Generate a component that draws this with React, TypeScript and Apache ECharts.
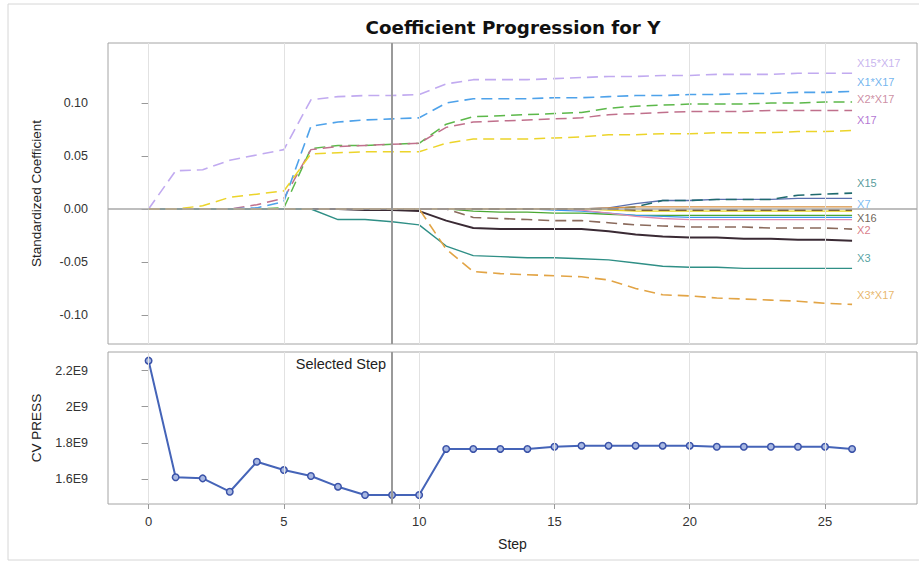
import React, { useEffect, useRef } from "react";
import * as echarts from "echarts";

const steps = [0, 1, 2, 3, 4, 5, 6, 7, 8, 9, 10, 11, 12, 13, 14, 15, 16, 17, 18, 19, 20, 21, 22, 23, 24, 25, 26];

// Standardized coefficients per step
const x15x17 = [0, 0.036, 0.037, 0.046, 0.051, 0.056, 0.103, 0.106, 0.107, 0.107, 0.108, 0.118, 0.122, 0.122, 0.122, 0.123, 0.124, 0.125, 0.125, 0.126, 0.126, 0.127, 0.127, 0.127, 0.128, 0.128, 0.128];
const x1x17 = [0, 0, 0, 0, 0.001, 0.007, 0.078, 0.082, 0.084, 0.085, 0.086, 0.1, 0.104, 0.104, 0.104, 0.105, 0.105, 0.106, 0.107, 0.107, 0.108, 0.108, 0.109, 0.109, 0.11, 0.11, 0.111];
const greenDash = [0, 0, 0, 0, 0, 0.001, 0.057, 0.06, 0.06, 0.061, 0.062, 0.08, 0.087, 0.088, 0.089, 0.09, 0.091, 0.095, 0.097, 0.098, 0.099, 0.099, 0.099, 0.1, 0.1, 0.101, 0.101];
const mauveDash = [0, 0, 0, 0, 0.004, 0.01, 0.056, 0.059, 0.06, 0.061, 0.062, 0.077, 0.082, 0.083, 0.084, 0.085, 0.086, 0.089, 0.09, 0.091, 0.092, 0.092, 0.092, 0.093, 0.093, 0.093, 0.093];
const yellowDash = [0, 0, 0.003, 0.011, 0.014, 0.017, 0.052, 0.053, 0.054, 0.054, 0.054, 0.062, 0.066, 0.066, 0.066, 0.067, 0.068, 0.07, 0.07, 0.071, 0.071, 0.072, 0.072, 0.072, 0.073, 0.073, 0.074];
const x3 = [0, 0, 0, 0, 0, 0, 0, -0.01, -0.01, -0.012, -0.015, -0.035, -0.044, -0.045, -0.046, -0.046, -0.047, -0.048, -0.051, -0.054, -0.055, -0.055, -0.056, -0.056, -0.056, -0.056, -0.056];
const x3x17 = [0, 0, 0, 0, 0, 0, 0, 0, 0, 0, 0, -0.038, -0.059, -0.061, -0.062, -0.063, -0.064, -0.067, -0.075, -0.081, -0.082, -0.084, -0.085, -0.086, -0.087, -0.089, -0.09];
const darkSolid = [0, 0, 0, 0, 0, 0, 0, 0, -0.001, -0.001, -0.002, -0.011, -0.018, -0.019, -0.019, -0.019, -0.019, -0.021, -0.024, -0.026, -0.027, -0.027, -0.028, -0.028, -0.029, -0.029, -0.03];
const x2Dash = [0, 0, 0, 0, 0, 0, 0, 0, 0, 0, 0, 0, -0.008, -0.009, -0.01, -0.011, -0.011, -0.013, -0.015, -0.016, -0.017, -0.017, -0.017, -0.018, -0.018, -0.018, -0.019];
const x15Dash = [0, 0, 0, 0, 0, 0, 0, 0, 0, 0, 0, 0, 0, 0, 0, 0, 0, 0, 0.002, 0.008, 0.008, 0.009, 0.009, 0.009, 0.013, 0.014, 0.015];
const slateSolid = [0, 0, 0, 0, 0, 0, 0, 0, 0, 0, 0, 0, 0, 0, 0, 0, 0, 0.001, 0.005, 0.008, 0.008, 0.009, 0.009, 0.009, 0.01, 0.01, 0.01];
const greenSolid = [0, 0, 0, 0, 0, 0, 0, 0, 0, 0, 0, 0, -0.002, -0.003, -0.003, -0.004, -0.004, -0.005, -0.006, -0.006, -0.006, -0.006, -0.006, -0.006, -0.006, -0.006, -0.006];
const blueSolid = [0, 0, 0, 0, 0, 0, 0, 0, 0, 0, 0, 0, 0, 0, 0, -0.001, -0.002, -0.004, -0.006, -0.007, -0.008, -0.008, -0.008, -0.008, -0.008, -0.008, -0.008];
const pinkSolid = [0, 0, 0, 0, 0, 0, 0, 0, 0, 0, 0, 0, 0, 0, 0, 0, -0.001, -0.004, -0.007, -0.009, -0.01, -0.01, -0.01, -0.01, -0.01, -0.01, -0.01];
const yellowSolid = [0, 0, 0, 0, 0, 0, 0, 0, 0, 0, 0, 0, 0, 0, 0, 0, 0, -0.001, -0.002, -0.002, -0.002, -0.002, -0.002, -0.002, -0.002, -0.002, -0.002];
const orangeSolid = [0, 0, 0, 0, 0, 0, 0, 0, 0, 0, 0, 0, 0, 0, 0, 0, 0, 0.001, 0.002, 0.002, 0.002, 0.002, 0.002, 0.002, 0.002, 0.002, 0.002];
const brownDash = [0, 0, 0, 0, 0, 0, 0, 0, 0, 0, 0, 0, 0, 0, 0, 0, 0, 0, -0.001, -0.001, -0.001, -0.001, -0.001, -0.001, -0.001, -0.001, -0.001];

// CV PRESS (in units of 1E9)
const cvPress = [2.255, 1.609, 1.603, 1.529, 1.695, 1.649, 1.616, 1.557, 1.511, 1.511, 1.511, 1.766, 1.766, 1.766, 1.766, 1.778, 1.784, 1.784, 1.784, 1.784, 1.784, 1.778, 1.778, 1.778, 1.778, 1.778, 1.766];

// Effect labels on the right of the coefficient panel
const labelNames = ["X15*X17", "X1*X17", "X2*X17", "X17", "X15", "X7", "X16", "X2", "X3", "X3*X17"];
const labelValues = [0.1377, 0.1198, 0.1038, 0.084, 0.0245, 0.0047, -0.0085, -0.0198, -0.0462, -0.0811];
const labelColors = ["#b9a2ea", "#4ea2ea", "#c0708c", "#a052c8", "#2c7f7f", "#5aacf0", "#4a3a2c", "#d05a68", "#2a8a8a", "#e2a445"];

const coefTicks = [-0.1, -0.05, 0, 0.05, 0.1];
const pressTicks = [1.6, 1.8, 2.0, 2.2];
const stepTicks = [0, 5, 10, 15, 20, 25];
const selectedStep = 9;

const FONT = "'Liberation Sans', Arial, Helvetica, sans-serif";

type Curve = { name: string; values: number[]; color: string; dashed: boolean; width: number };
const curves: Curve[] = [
  { name: "slate", values: slateSolid, color: "#5a6fae", dashed: false, width: 1.3 },
  { name: "x15", values: x15Dash, color: "#1f6a6e", dashed: true, width: 1.6 },
  { name: "greenSolid", values: greenSolid, color: "#4aa832", dashed: false, width: 1.3 },
  { name: "blueSolid", values: blueSolid, color: "#3a98f0", dashed: false, width: 1.3 },
  { name: "pinkSolid", values: pinkSolid, color: "#e08cb0", dashed: false, width: 1.3 },
  { name: "yellowSolid", values: yellowSolid, color: "#e6d21a", dashed: false, width: 1.2 },
  { name: "orangeSolid", values: orangeSolid, color: "#d69040", dashed: false, width: 1.2 },
  { name: "x16", values: brownDash, color: "#5a3a1a", dashed: true, width: 1.5 },
  { name: "x2", values: x2Dash, color: "#8a6a5c", dashed: true, width: 1.6 },
  { name: "dark", values: darkSolid, color: "#3a2a34", dashed: false, width: 2 },
  { name: "x3", values: x3, color: "#2f8f86", dashed: false, width: 1.4 },
  { name: "green", values: greenDash, color: "#5cb84a", dashed: true, width: 1.5 },
  { name: "mauve", values: mauveDash, color: "#c0708c", dashed: true, width: 1.5 },
  { name: "x1x17", values: x1x17, color: "#4ea2ea", dashed: true, width: 1.6 },
  { name: "x15x17", values: x15x17, color: "#c1aaf0", dashed: true, width: 1.6 },
  { name: "yellow", values: yellowDash, color: "#ecd42a", dashed: true, width: 1.5 },
  { name: "x3x17", values: x3x17, color: "#e2a445", dashed: true, width: 1.6 },
];

export default function App() {
  const ref = useRef<HTMLDivElement>(null);

  useEffect(() => {
    const chart = echarts.init(ref.current!, null, { renderer: "svg" });

    const axisLabelStyle = { color: "#333", fontFamily: FONT };
    const xBase = { type: "value", min: -1.5, max: 28.4, splitLine: { show: false }, axisLine: { show: false } };

    const coefSeries = curves.map((c) => ({
      type: "line",
      name: c.name,
      xAxisIndex: 0,
      yAxisIndex: 0,
      z: 3,
      symbol: "none",
      silent: true,
      data: steps.map((s, i) => [s, c.values[i]]),
      lineStyle: { color: c.color, width: c.width, type: c.dashed ? [11, 6] : "solid" },
    }));

    const option: any = {
      animation: false,
      backgroundColor: "#fff",
      textStyle: { fontFamily: FONT },
      grid: [
        { left: 108, top: 43, width: 809, height: 301, show: true, borderColor: "#a4a4a4", borderWidth: 1, backgroundColor: "transparent" },
        { left: 108, top: 352, width: 809, height: 152, show: true, borderColor: "#a4a4a4", borderWidth: 1, backgroundColor: "transparent" },
      ],
      xAxis: [
        { ...xBase, gridIndex: 0, axisTick: { show: false }, axisLabel: { show: false } },
        {
          ...xBase,
          gridIndex: 1,
          name: "Step",
          nameLocation: "middle",
          nameGap: 33,
          nameTextStyle: { fontSize: 14, color: "#222", fontFamily: FONT },
          axisTick: { show: true, customValues: stepTicks, length: 5, lineStyle: { color: "#999" } },
          axisLabel: { ...axisLabelStyle, fontSize: 13, margin: 11, customValues: stepTicks },
        },
      ],
      yAxis: [
        {
          type: "value",
          gridIndex: 0,
          min: -0.1274,
          max: 0.1566,
          name: "Standardized Coefficient",
          nameLocation: "middle",
          nameGap: 65,
          nameTextStyle: { fontSize: 13.5, color: "#222", fontFamily: FONT },
          splitLine: { show: false },
          axisLine: { show: false },
          axisTick: { show: true, customValues: coefTicks, length: 7, lineStyle: { color: "#999" } },
          axisLabel: { ...axisLabelStyle, fontSize: 12.5, margin: 20, customValues: coefTicks, formatter: (v: number) => v.toFixed(2) },
        },
        {
          type: "value",
          gridIndex: 1,
          min: 1.461,
          max: 2.303,
          name: "CV PRESS",
          nameLocation: "middle",
          nameGap: 65,
          nameTextStyle: { fontSize: 13.5, color: "#222", fontFamily: FONT },
          splitLine: { show: false },
          axisLine: { show: false },
          axisTick: { show: true, customValues: pressTicks, length: 7, lineStyle: { color: "#999" } },
          axisLabel: { ...axisLabelStyle, fontSize: 12.5, margin: 20, customValues: pressTicks, formatter: (v: number) => `${parseFloat(v.toFixed(1))}E9` },
        },
      ],
      series: [
        {
          type: "line",
          xAxisIndex: 0,
          yAxisIndex: 0,
          data: [],
          z: 1,
          silent: true,
          markLine: {
            silent: true,
            symbol: ["none", "none"],
            label: { show: false },
            lineStyle: { color: "#e2e2e2", width: 1, type: "solid" },
            data: [
              ...stepTicks.map((s) => ({ xAxis: s })),
              { yAxis: 0, lineStyle: { color: "#a8a8a8", width: 1.5, type: "solid" } },
            ],
          },
        },
        {
          type: "line",
          xAxisIndex: 1,
          yAxisIndex: 1,
          data: [],
          z: 1,
          silent: true,
          markLine: {
            silent: true,
            symbol: ["none", "none"],
            label: { show: false },
            lineStyle: { color: "#e2e2e2", width: 1, type: "solid" },
            data: stepTicks.map((s) => ({ xAxis: s })),
          },
        },
        ...coefSeries,
        {
          type: "line",
          xAxisIndex: 0,
          yAxisIndex: 0,
          data: [],
          z: 5,
          silent: true,
          markLine: {
            silent: true,
            symbol: ["none", "none"],
            label: { show: false },
            lineStyle: { color: "#9a9a9a", width: 2, type: "solid" },
            data: [{ xAxis: selectedStep }],
          },
        },
        {
          type: "line",
          xAxisIndex: 1,
          yAxisIndex: 1,
          data: [],
          z: 1,
          silent: true,
          markLine: {
            silent: true,
            symbol: ["none", "none"],
            label: { show: false },
            lineStyle: { color: "#9a9a9a", width: 2, type: "solid" },
            data: [{ xAxis: selectedStep }],
          },
        },
        {
          type: "scatter",
          xAxisIndex: 0,
          yAxisIndex: 0,
          z: 6,
          silent: true,
          symbolSize: 0,
          data: labelNames.map((n, i) => ({
            name: n,
            value: [steps[steps.length - 1], labelValues[i]],
            label: { color: labelColors[i] },
          })),
          label: {
            show: true,
            position: "right",
            distance: 5,
            formatter: (p: any) => p.name,
            fontSize: 11,
            fontFamily: FONT,
          },
        },
        {
          type: "line",
          xAxisIndex: 1,
          yAxisIndex: 1,
          z: 4,
          silent: true,
          data: steps.map((s, i) => [s, cvPress[i]]),
          symbol: "circle",
          symbolSize: 6.5,
          lineStyle: { color: "#4564b8", width: 2 },
          itemStyle: { color: "#a8b8e2", borderColor: "#3a52a8", borderWidth: 1.5 },
        },
      ],
      graphic: [
        {
          type: "rect",
          shape: { x: 8, y: 4, width: 916, height: 556 },
          style: { fill: "none", stroke: "#d6d6d6", lineWidth: 1 },
          silent: true,
          z: -1,
        },
        {
          type: "text",
          x: 513,
          y: 27,
          style: {
            text: "Coefficient Progression for Y",
            font: `bold 18.3px 'DejaVu Sans', Verdana, sans-serif`,
            fill: "#111",
            align: "center",
            verticalAlign: "middle",
          },
        },
      ],
    };

    chart.setOption(option);

    const px = chart.convertToPixel({ xAxisIndex: 1 }, selectedStep) as number;
    chart.setOption({
      graphic: [
        option.graphic[0],
        option.graphic[1],
        {
          type: "text",
          x: px - 6,
          y: 364,
          style: {
            text: "Selected Step",
            font: `14.5px ${FONT}`,
            fill: "#222",
            align: "right",
            verticalAlign: "middle",
          },
        },
      ],
    });

    return () => chart.dispose();
  }, []);

  return (
    <div
      ref={ref}
      style={{ position: "absolute", left: 0, top: 0, width: 919, height: 565, background: "#fff" }}
    />
  );
}
